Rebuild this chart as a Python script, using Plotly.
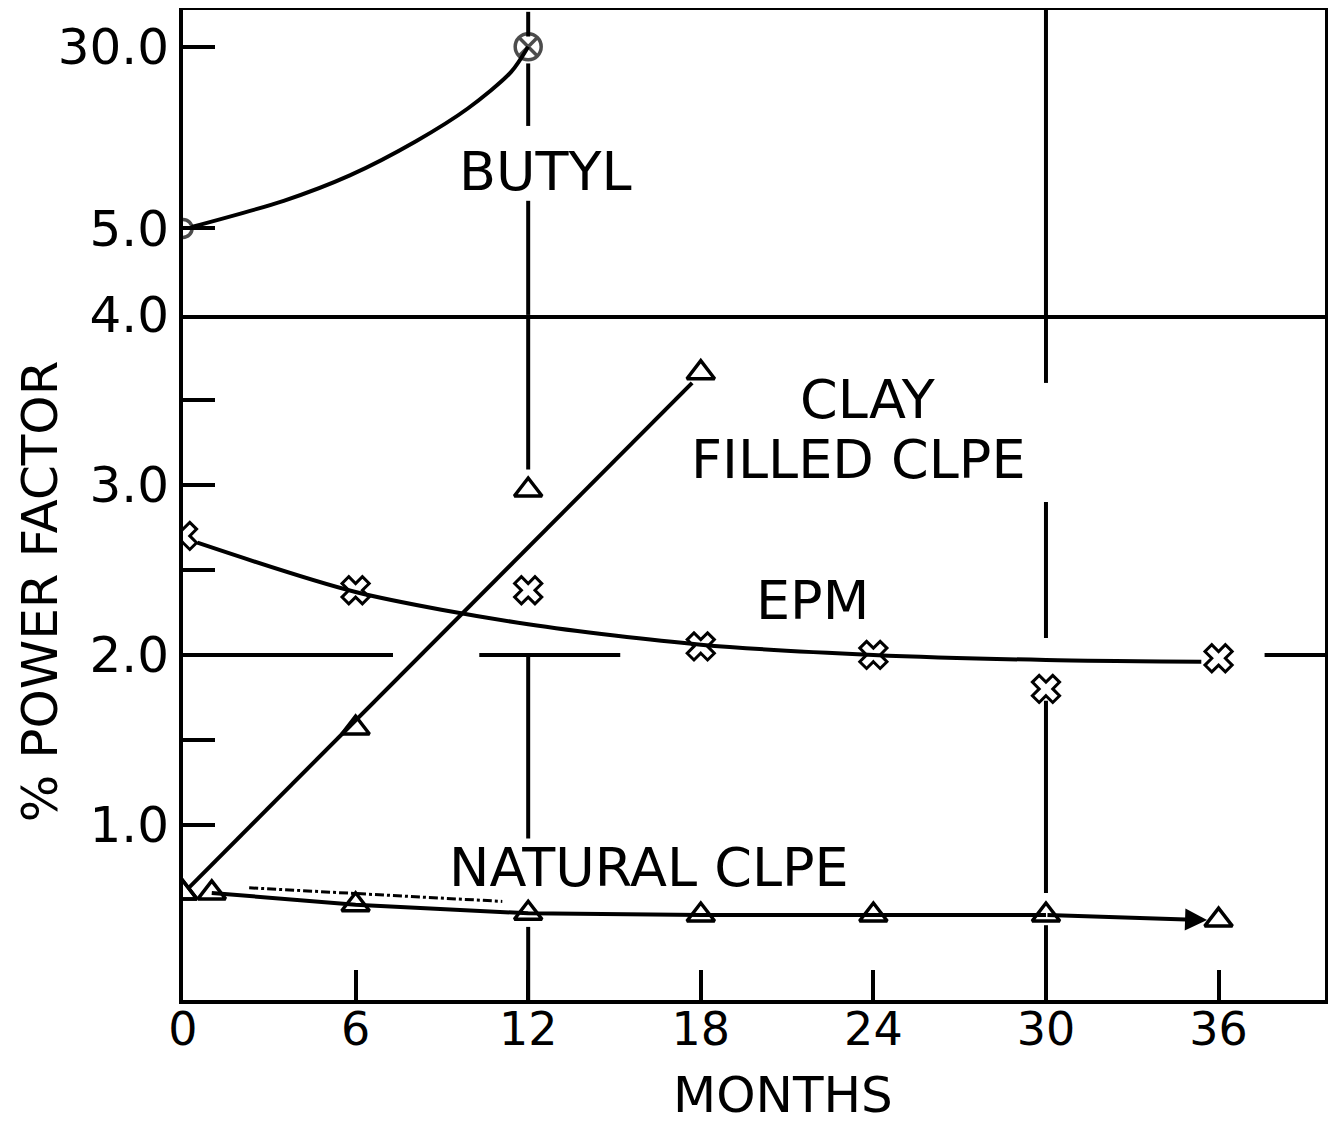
import plotly.graph_objects as go
from plotly.subplots import make_subplots

# ---------------- data ----------------
MONTH_TICKS = [0, 6, 12, 18, 24, 30, 36]
MONTH_TICK_TEXT = ["0", "6", "12", "18", "24", "30", "36"]

# Butyl (upper, broken scale)
BUTYL_MONTHS = [0, 12]
BUTYL_PF = [5.0, 30.0]
BUTYL_CURVE_MONTHS = [0.3, 3.5, 5.8, 8.1, 9.9, 11.4, 12]
BUTYL_CURVE_PF = [5.2, 8.8, 12.3, 17.0, 21.5, 26.5, 30.0]

# Clay filled CLPE
CLAY_MONTHS = [0, 6, 12, 18]
CLAY_PF = [0.6, 1.57, 2.97, 3.66]
CLAY_FIT_MONTHS = [0.2, 17.7]
CLAY_FIT_PF = [0.63, 3.6]

# EPM
EPM_MONTHS = [0, 6, 12, 18, 24, 30, 36]
EPM_PF = [2.7, 2.38, 2.38, 2.05, 2.0, 1.8, 1.98]
EPM_CURVE_MONTHS = [0.5, 6, 12, 18, 24, 30, 35.4]
EPM_CURVE_PF = [2.66, 2.37, 2.18, 2.06, 2.0, 1.97, 1.96]

# Natural CLPE
NAT_MONTHS = [0, 1, 6, 12, 18, 24, 30, 36]
NAT_PF = [0.6, 0.6, 0.53, 0.48, 0.47, 0.47, 0.47, 0.44]
NAT_EARLY_MONTHS = [2.3, 11.1]
NAT_EARLY_PF = [0.63, 0.55]

# axis tick labels
UPPER_TICKS = [5, 30]
UPPER_TICK_TEXT = ["5.0", "30.0"]
LOWER_TICKS = [1, 1.5, 2, 2.5, 3, 3.5, 4]
LOWER_TICK_TEXT = ["1.0", "", "2.0", "", "3.0", "", "4.0"]

# drawn reference lines
VLINE_12_UPPER = [(31.4, 34.8), (19.1, 27.7), (-6.9, 8.8)]
VLINE_12_LOWER = [(3.09, 4.0), (0.92, 2.0), (-0.03, 0.40)]
VLINE_30_UPPER = [(-6.9, 35.05)]
VLINE_30_LOWER = [(3.6, 4.0), (2.1, 2.9), (0.6, 1.73), (-0.03, 0.41)]
HLINE_2_SEGMENTS = [(0.2, 7.3), (10.3, 15.2), (37.6, 39.7)]

FONT = "DejaVu Sans"
BLACK = "black"

fig = make_subplots(rows=2, cols=1, shared_xaxes=True, vertical_spacing=0,
                    row_heights=[0.308, 0.692])

# Butyl
fig.add_trace(go.Scatter(x=BUTYL_CURVE_MONTHS, y=BUTYL_CURVE_PF, mode="lines",
                         line=dict(color=BLACK, width=4, shape="spline", smoothing=0.8),
                         showlegend=False, hoverinfo="skip"), row=1, col=1)
fig.add_trace(go.Scatter(x=BUTYL_MONTHS, y=BUTYL_PF, mode="markers",
                         marker=dict(symbol=["circle-open", "circle-x-open"], size=[18, 26],
                                     color=BLACK, line=dict(width=3.5, color=BLACK)),
                         showlegend=False), row=1, col=1)

# Clay filled CLPE
fig.add_trace(go.Scatter(x=CLAY_FIT_MONTHS, y=CLAY_FIT_PF, mode="lines",
                         line=dict(color=BLACK, width=4),
                         showlegend=False, hoverinfo="skip"), row=2, col=1)
fig.add_trace(go.Scatter(x=CLAY_MONTHS, y=CLAY_PF, mode="markers",
                         marker=dict(symbol="triangle-up-open", size=24, color=BLACK,
                                     line=dict(width=3.5, color=BLACK)),
                         showlegend=False), row=2, col=1)

# EPM
fig.add_trace(go.Scatter(x=EPM_CURVE_MONTHS, y=EPM_CURVE_PF, mode="lines",
                         line=dict(color=BLACK, width=4, shape="spline", smoothing=0.8),
                         showlegend=False, hoverinfo="skip"), row=2, col=1)
fig.add_trace(go.Scatter(x=EPM_MONTHS, y=EPM_PF, mode="markers",
                         marker=dict(symbol="x-open", size=24, color=BLACK,
                                     line=dict(width=3, color=BLACK)),
                         showlegend=False), row=2, col=1)

# Natural CLPE
fig.add_trace(go.Scatter(x=NAT_EARLY_MONTHS, y=NAT_EARLY_PF, mode="lines",
                         line=dict(color=BLACK, width=3, dash="dashdot"),
                         showlegend=False, hoverinfo="skip"), row=2, col=1)
fig.add_trace(go.Scatter(x=NAT_MONTHS[1:-1], y=NAT_PF[1:-1], mode="lines",
                         line=dict(color=BLACK, width=4),
                         showlegend=False, hoverinfo="skip"), row=2, col=1)
fig.add_trace(go.Scatter(x=NAT_MONTHS, y=NAT_PF, mode="markers",
                         marker=dict(symbol="triangle-up-open", size=24, color=BLACK,
                                     line=dict(width=3.5, color=BLACK)),
                         showlegend=False), row=2, col=1)
fig.add_annotation(x=NAT_MONTHS[-1] - 0.4, y=NAT_PF[-1], ax=NAT_MONTHS[-2], ay=NAT_PF[-2],
                   xref="x2", yref="y2", axref="x2", ayref="y2", text="",
                   showarrow=True, arrowhead=2, arrowsize=1.1, arrowwidth=4,
                   arrowcolor=BLACK)

# reference lines
for lo, hi in VLINE_12_UPPER:
    fig.add_shape(type="line", x0=12, x1=12, y0=lo, y1=hi, xref="x", yref="y",
                  line=dict(color=BLACK, width=4), layer="below")
for lo, hi in VLINE_12_LOWER:
    fig.add_shape(type="line", x0=12, x1=12, y0=lo, y1=hi, xref="x2", yref="y2",
                  line=dict(color=BLACK, width=4), layer="below")
for lo, hi in VLINE_30_UPPER:
    fig.add_shape(type="line", x0=30, x1=30, y0=lo, y1=hi, xref="x", yref="y",
                  line=dict(color=BLACK, width=4), layer="below")
for lo, hi in VLINE_30_LOWER:
    fig.add_shape(type="line", x0=30, x1=30, y0=lo, y1=hi, xref="x2", yref="y2",
                  line=dict(color=BLACK, width=4), layer="below")
for lo, hi in HLINE_2_SEGMENTS:
    fig.add_shape(type="line", x0=lo, x1=hi, y0=2.0, y1=2.0, xref="x2", yref="y2",
                  line=dict(color=BLACK, width=4), layer="below")

# curve labels
lab = dict(family=FONT, size=54, color=BLACK)
fig.add_annotation(x=12.6, y=12.9, xref="x", yref="y", text="BUTYL", showarrow=False, font=lab)
fig.add_annotation(x=23.8, y=3.5, xref="x2", yref="y2", text="CLAY", showarrow=False, font=lab)
fig.add_annotation(x=23.5, y=3.15, xref="x2", yref="y2", text="FILLED CLPE", showarrow=False, font=lab)
fig.add_annotation(x=21.9, y=2.32, xref="x2", yref="y2", text="EPM", showarrow=False, font=lab)
fig.add_annotation(x=16.2, y=0.75, xref="x2", yref="y2", text="NATURAL CLPE", showarrow=False, font=lab)

# axis titles
fig.add_annotation(x=0.525, y=-0.096, xref="paper", yref="paper", text="MONTHS",
                   xanchor="center", yanchor="middle",
                   showarrow=False, font=dict(family=FONT, size=50, color=BLACK))
fig.add_annotation(x=-0.1252, y=0.413, xref="paper", yref="paper", text="% POWER FACTOR",
                   xanchor="center", yanchor="middle",
                   textangle=-90, showarrow=False, font=dict(family=FONT, size=50, color=BLACK))

axis_common = dict(showline=True, linecolor=BLACK, linewidth=4,
                   showgrid=False, zeroline=False, automargin=False)
fig.update_xaxes(range=[0, 39.7], **axis_common)
fig.update_xaxes(showticklabels=False, ticks="", mirror=True, row=1, col=1)
fig.update_xaxes(tickvals=MONTH_TICKS, ticktext=MONTH_TICK_TEXT, ticks="inside",
                 ticklen=30, tickwidth=4, tickcolor=BLACK, mirror=False,
                 ticklabelstandoff=-14,
                 tickfont=dict(family=FONT, size=46, color=BLACK), row=2, col=1)
fig.update_yaxes(range=[-6.9, 35.05], tickvals=UPPER_TICKS, ticktext=UPPER_TICK_TEXT,
                 ticks="inside", ticklen=32, tickwidth=4, tickcolor=BLACK, mirror=True,
                 tickfont=dict(family=FONT, size=50, color=BLACK), row=1, col=1, **axis_common)
fig.update_yaxes(range=[-0.03, 4.0], tickvals=LOWER_TICKS, ticktext=LOWER_TICK_TEXT,
                 ticks="inside", ticklen=32, tickwidth=4, tickcolor=BLACK, mirror=True,
                 tickfont=dict(family=FONT, size=50, color=BLACK), row=2, col=1, **axis_common)

fig.update_layout(width=1328, height=1119, margin=dict(l=175, r=11, t=2, b=127, autoexpand=False),
                  paper_bgcolor="white", plot_bgcolor="white", showlegend=False,
                  font=dict(family=FONT, color=BLACK))

fig.write_html("out.html")
